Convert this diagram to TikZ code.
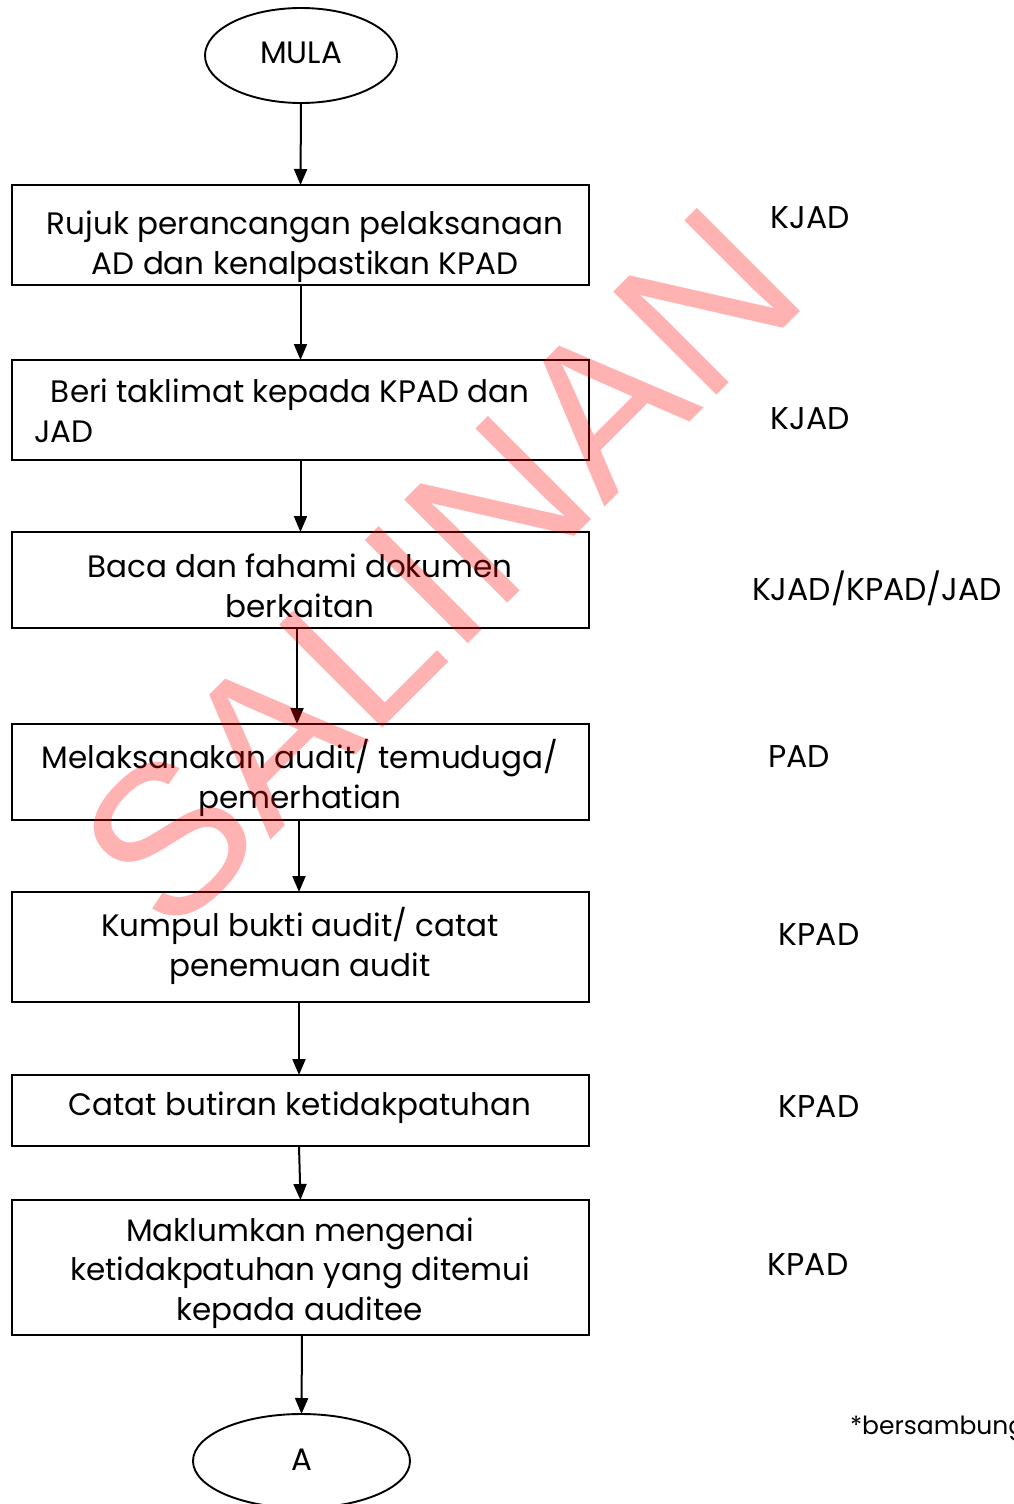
\documentclass[tikz,border=0pt]{standalone}
\usepackage{fontspec}
\setmainfont{Poppins}
\newfontfamily\markfont{Liberation Sans}
\usetikzlibrary{shapes.geometric,arrows.meta}
\begin{document}
\begin{tikzpicture}[x=1pt,y=-1pt,
  every node/.style={inner sep=0pt,outer sep=0pt},
  stepbox/.style={draw,line width=1.9pt,minimum width=577pt},
  term/.style={draw,line width=1.9pt,ellipse},
  txt/.style={font=\fontsize{31}{39.5}\selectfont,align=center},
  who/.style={font=\fontsize{31.5}{39.5}\selectfont},
  flow/.style={line width=2pt,-{Triangle[length=16pt,width=13pt]}}]
\useasboundingbox (0,0) rectangle (1013,1504);
\clip (0,0) rectangle (1013,1504);

% terminals
\node[term,minimum width=192pt,minimum height=95pt] (start) at (301,55.5) {};
\node[txt] at (301,53) {MULA};
\node[term,minimum width=217pt,minimum height=94pt] (cont) at (301.5,1461) {};
\node[txt] at (302,1460) {A};

% process boxes
\node[stepbox,minimum height=100pt] (b1) at (300.5,235) {};
\node[stepbox,minimum height=100pt] (b2) at (300.5,410) {};
\node[stepbox,minimum height=96pt]  (b3) at (300.5,580) {};
\node[stepbox,minimum height=96pt]  (b4) at (300.5,772) {};
\node[stepbox,minimum height=110pt] (b5) at (300.5,947) {};
\node[stepbox,minimum height=71pt]  (b6) at (300.5,1110.5) {};
\node[stepbox,minimum height=135pt] (b7) at (300.5,1267.5) {};

\node[txt] at (305,246.5) {Rujuk perancangan pelaksanaan\\AD dan kenalpastikan KPAD};
\node[txt,align=left,anchor=north west] at (34,379) {\hspace*{17pt}Beri taklimat kepada KPAD dan\\JAD};
\node[txt] at (300,586) {Baca dan fahami dokumen\\berkaitan};
\node[txt] at (300,778) {Melaksanakan audit/ temuduga/\\pemerhatian};
\node[txt] at (300,946) {Kumpul bukti audit/ catat\\penemuan audit};
\node[txt] at (300,1108) {Catat butiran ketidakpatuhan};
\node[txt] at (300,1273) {Maklumkan mengenai\\ketidakpatuhan yang ditemui\\kepada auditee};

% responsible parties
\node[who] at (810,218) {KJAD};
\node[who] at (810,419) {KJAD};
\node[who] at (877,588) {KJAD/KPAD/JAD};
\node[who] at (799,757) {PAD};
\node[who] at (819,935) {KPAD};
\node[who] at (819,1107) {KPAD};
\node[who] at (808,1265) {KPAD};
\node[font=\fontsize{25}{28}\selectfont,anchor=west] at (850,1429) {*bersambung};

% connectors
\draw[flow] (start.south) -- (b1.north);
\draw[flow] (b1.south) -- (b2.north);
\draw[flow] (b2.south) -- (b3.north);
\draw[flow] ([xshift=-3.5pt]b3.south) -- ([xshift=-3.5pt]b4.north);
\draw[flow] ([xshift=-1.5pt]b4.south) -- ([xshift=-1.5pt]b5.north);
\draw[flow] ([xshift=-1.5pt]b5.south) -- ([xshift=-1.5pt]b6.north);
\draw[flow] ([xshift=-1.5pt]b6.south) -- (b7.north);
\draw[flow] ([xshift=1.5pt]b7.south) -- (cont.north);

% watermark laid over the page
\node[text=red,text opacity=0.3,font=\markfont\fontsize{212}{212}\selectfont,rotate=45] (wm) at (440,568) {SALINAN};
\end{tikzpicture}
\end{document}
